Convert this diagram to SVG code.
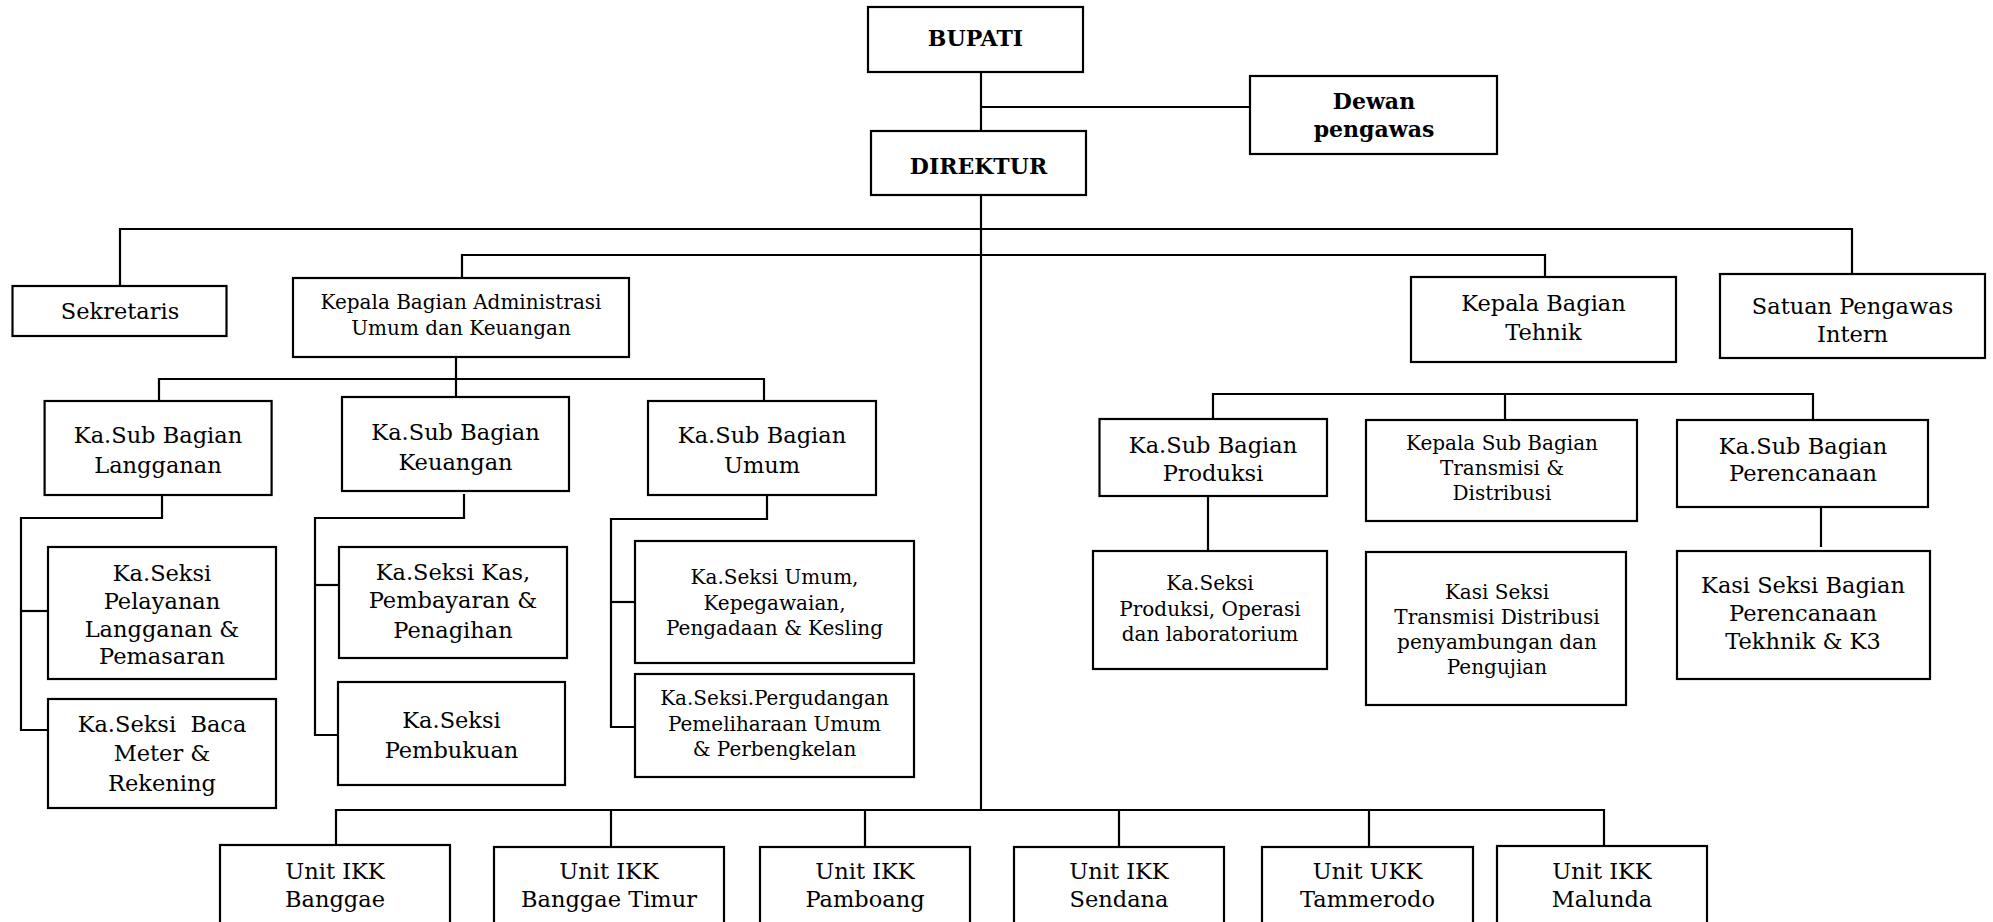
<svg xmlns="http://www.w3.org/2000/svg" width="1993" height="922" viewBox="0 0 1993 922">
<style>
rect{fill:#fff;stroke:#000;stroke-width:2.2}
.c line,.c polyline{stroke:#000;stroke-width:2.2;fill:none}
text{font-family:"DejaVu Serif","Liberation Serif",serif;fill:#000;text-anchor:middle}
.b{font-size:22px;font-weight:bold}
.l{font-size:22.5px}
.s{font-size:20px}
</style>
<rect x="0" y="0" width="1993" height="922" style="fill:#fff;stroke:none"/>
<g class="c" id="connectors">
<line x1="981" y1="72" x2="981" y2="131"/>
<line x1="981" y1="107" x2="1250" y2="107"/>
<line x1="981" y1="195" x2="981" y2="810"/>
<polyline points="120,286 120,229 1852,229 1852,274"/>
<polyline points="462,278 462,255 1545,255 1545,277"/>
<line x1="456" y1="357" x2="456" y2="379"/>
<polyline points="159,401 159,379 764,379 764,401"/>
<line x1="456" y1="379" x2="456" y2="397"/>
<polyline points="162,495 162,518 21,518 21,730 48,730"/>
<line x1="21" y1="611" x2="48" y2="611"/>
<polyline points="464,494 464,518 315,518 315,735 338,735"/>
<line x1="315" y1="585" x2="339" y2="585"/>
<polyline points="767,495 767,519 611,519 611,727 635,727"/>
<line x1="611" y1="602" x2="635" y2="602"/>
<polyline points="1213,419 1213,394 1813,394 1813,420"/>
<line x1="1505" y1="394" x2="1505" y2="420"/>
<line x1="1208" y1="496" x2="1208" y2="551"/>
<line x1="1821" y1="507" x2="1821" y2="547"/>
<polyline points="336,847 336,810 1604,810 1604,846"/>
<line x1="611" y1="810" x2="611" y2="847"/>
<line x1="865" y1="810" x2="865" y2="847"/>
<line x1="1119" y1="810" x2="1119" y2="847"/>
<line x1="1369" y1="810" x2="1369" y2="847"/>
</g>
<g id="bupati"><rect x="868" y="7" width="215" height="65"/><text class="b" x="975.5" y="46">BUPATI</text></g>
<g id="dewan"><rect x="1250" y="76" width="247" height="78"/><text class="b" x="1374" y="109">Dewan</text><text class="b" x="1374" y="137">pengawas</text></g>
<g id="direktur"><rect x="871" y="131" width="215" height="64"/><text class="b" x="978.5" y="174">DIREKTUR</text></g>
<g id="sekretaris"><rect x="12.5" y="286" width="214" height="50"/><text class="l" x="120" y="319">Sekretaris</text></g>
<g id="kabag-admin"><rect x="293" y="278" width="336" height="79"/><text class="s" x="461" y="309">Kepala Bagian Administrasi</text><text class="s" x="461" y="335">Umum dan Keuangan</text></g>
<g id="kabag-tehnik"><rect x="1411" y="277" width="265" height="85"/><text class="l" x="1543.5" y="311">Kepala Bagian</text><text class="l" x="1543.5" y="340">Tehnik</text></g>
<g id="spi"><rect x="1720" y="274" width="265" height="84"/><text class="l" x="1852.5" y="314">Satuan Pengawas</text><text class="l" x="1852.5" y="342">Intern</text></g>
<g id="sub-langganan"><rect x="44.6" y="401" width="227" height="94"/><text class="l" x="158" y="443">Ka.Sub Bagian</text><text class="l" x="158" y="473">Langganan</text></g>
<g id="sub-keuangan"><rect x="342" y="397" width="227" height="94"/><text class="l" x="455.5" y="440">Ka.Sub Bagian</text><text class="l" x="455.5" y="470">Keuangan</text></g>
<g id="sub-umum"><rect x="648" y="401" width="228" height="94"/><text class="l" x="762" y="443">Ka.Sub Bagian</text><text class="l" x="762" y="473">Umum</text></g>
<g id="seksi-pelayanan"><rect x="48" y="547" width="228" height="132"/><text class="l" x="162" y="581">Ka.Seksi</text><text class="l" x="162" y="609">Pelayanan</text><text class="l" x="162" y="637">Langganan &amp;</text><text class="l" x="162" y="664">Pemasaran</text></g>
<g id="seksi-baca"><rect x="48" y="699" width="228" height="109"/><text class="l" x="162" y="732" xml:space="preserve">Ka.Seksi  Baca</text><text class="l" x="162" y="761">Meter &amp;</text><text class="l" x="162" y="791">Rekening</text></g>
<g id="seksi-kas"><rect x="339" y="547" width="228" height="111"/><text class="l" x="453" y="580">Ka.Seksi Kas,</text><text class="l" x="453" y="608">Pembayaran &amp;</text><text class="l" x="453" y="638">Penagihan</text></g>
<g id="seksi-pembukuan"><rect x="338" y="682" width="227" height="103"/><text class="l" x="451.5" y="728">Ka.Seksi</text><text class="l" x="451.5" y="758">Pembukuan</text></g>
<g id="seksi-umum"><rect x="635" y="541" width="279" height="122"/><text class="s" x="774.5" y="584">Ka.Seksi Umum,</text><text class="s" x="774.5" y="610">Kepegawaian,</text><text class="s" x="774.5" y="635">Pengadaan &amp; Kesling</text></g>
<g id="seksi-pergudangan"><rect x="635" y="674" width="279" height="103"/><text class="s" x="774.5" y="705">Ka.Seksi.Pergudangan</text><text class="s" x="774.5" y="731">Pemeliharaan Umum</text><text class="s" x="774.5" y="756">&amp; Perbengkelan</text></g>
<g id="sub-produksi"><rect x="1099.5" y="419" width="227.5" height="77"/><text class="l" x="1213" y="453">Ka.Sub Bagian</text><text class="l" x="1213" y="481">Produksi</text></g>
<g id="seksi-produksi"><rect x="1093" y="551" width="234" height="118"/><text class="s" x="1210" y="590">Ka.Seksi</text><text class="s" x="1210" y="616">Produksi, Operasi</text><text class="s" x="1210" y="641">dan laboratorium</text></g>
<g id="sub-transmisi"><rect x="1366" y="420" width="271" height="101"/><text class="s" x="1502" y="450">Kepala Sub Bagian</text><text class="s" x="1502" y="475">Transmisi &amp;</text><text class="s" x="1502" y="500">Distribusi</text></g>
<g id="seksi-transmisi"><rect x="1366" y="552" width="260" height="153"/><text class="s" x="1497" y="599">Kasi Seksi</text><text class="s" x="1497" y="624">Transmisi Distribusi</text><text class="s" x="1497" y="649">penyambungan dan</text><text class="s" x="1497" y="674">Pengujian</text></g>
<g id="sub-perencanaan"><rect x="1677" y="420" width="251" height="87"/><text class="l" x="1803" y="454">Ka.Sub Bagian</text><text class="l" x="1803" y="481">Perencanaan</text></g>
<g id="seksi-perencanaan"><rect x="1677" y="551" width="253" height="128"/><text class="l" x="1803" y="593">Kasi Seksi Bagian</text><text class="l" x="1803" y="621">Perencanaan</text><text class="l" x="1803" y="649">Tekhnik &amp; K3</text></g>
<g id="unit-banggae"><rect x="220" y="845" width="230" height="90"/><text class="l" x="335" y="879">Unit IKK</text><text class="l" x="335" y="907">Banggae</text></g>
<g id="unit-banggae-timur"><rect x="494" y="847" width="230" height="90"/><text class="l" x="609" y="879">Unit IKK</text><text class="l" x="609" y="907">Banggae Timur</text></g>
<g id="unit-pamboang"><rect x="760" y="847" width="210" height="90"/><text class="l" x="865" y="879">Unit IKK</text><text class="l" x="865" y="907">Pamboang</text></g>
<g id="unit-sendana"><rect x="1014" y="847" width="210" height="90"/><text class="l" x="1119" y="879">Unit IKK</text><text class="l" x="1119" y="907">Sendana</text></g>
<g id="unit-tammerodo"><rect x="1262" y="847" width="211" height="90"/><text class="l" x="1367.5" y="879">Unit UKK</text><text class="l" x="1367.5" y="907">Tammerodo</text></g>
<g id="unit-malunda"><rect x="1497" y="846" width="210" height="90"/><text class="l" x="1602" y="879">Unit IKK</text><text class="l" x="1602" y="907">Malunda</text></g>
</svg>
